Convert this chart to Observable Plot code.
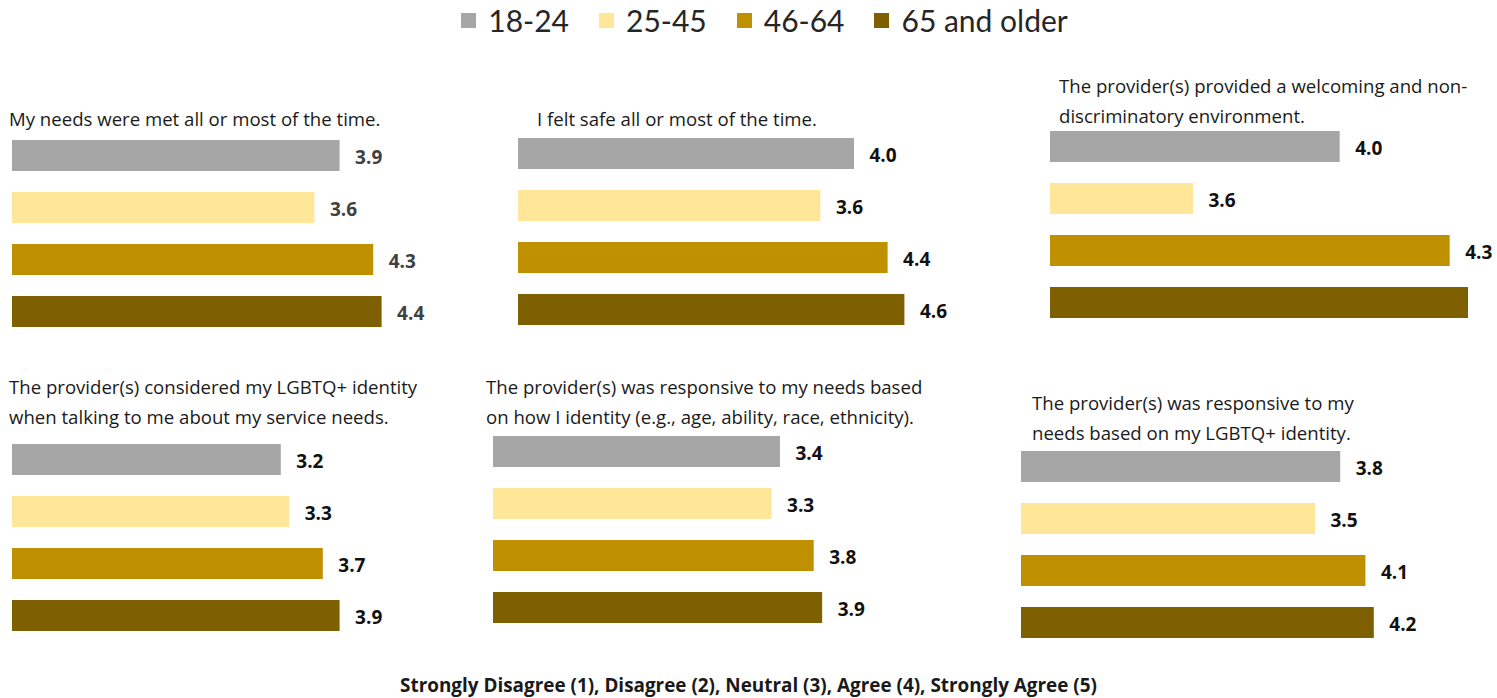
<!DOCTYPE html>
<html>
<head>
<meta charset="utf-8">
<script src="https://cdn.jsdelivr.net/npm/d3@7"></script>
<script src="https://cdn.jsdelivr.net/npm/@observablehq/plot@0.6"></script>
<style>
  html, body { margin: 0; padding: 0; background: #fff; }
  #root { position: relative; width: 1497px; height: 698px; overflow: hidden; font-family: "Open Sans", sans-serif; }
  .legend { position: absolute; top: 2px; left: 16px; width: 1497px; display: flex; justify-content: center; align-items: center; font-family: Lato, sans-serif; font-size: 30px; color: #262626; }
  .legend .item { display: flex; align-items: center; margin: 0 15px; }
  .legend .sw { width: 15px; height: 15px; margin-right: 12px; }
  .title { position: absolute; font-size: 18.6px; line-height: 30px; color: #1a1a1a; white-space: nowrap; }
  .panel { position: absolute; }
  .caption { position: absolute; top: 672px; left: 0; width: 1497px; text-align: center; font-weight: bold; font-size: 18.9px; color: #1a1a1a; }
</style>
</head>
<body>
<div id="root"></div>
<script>
// ---- data ----
const groups = ["18-24", "25-45", "46-64", "65 and older"];
const colors = ["#a6a6a6", "#ffe699", "#bf9000", "#7f6000"];
const questions = [
  "My needs were met all or most of the time.",
  "I felt safe all or most of the time.",
  "The provider(s) provided a welcoming and non-\ndiscriminatory environment.",
  "The provider(s) considered my LGBTQ+ identity\nwhen talking to me about my service needs.",
  "The provider(s) was responsive to my needs based\non how I identity (e.g., age, ability, race, ethnicity).",
  "The provider(s) was responsive to my\nneeds based on my LGBTQ+ identity."
];
const q1Values = [3.9, 3.6, 4.3, 4.4];
const q2Values = [4.0, 3.6, 4.4, 4.6];
const q3Values = [4.0, 3.6, 4.3, 4.35];
const q4Values = [3.2, 3.3, 3.7, 3.9];
const q5Values = [3.4, 3.3, 3.8, 3.9];
const q6Values = [3.8, 3.5, 4.1, 4.2];
const q3Labelled = [true, true, true, false];
const caption = "Strongly Disagree (1), Disagree (2), Neutral (3), Agree (4), Strongly Agree (5)";

// ---- layout (not data) ----
const panels = [
  {values: q1Values, left: 12, top: 139, xDomain: [0, 5], xRange: [0, 420], labelColor: "#404040", tLeft: 9, tTop: 104},
  {values: q2Values, left: 518, top: 137, xDomain: [0, 5], xRange: [0, 420], labelColor: "#111", tLeft: 537, tTop: 104},
  {values: q3Values, left: 1050, top: 130, xDomain: [3.21, 4.5], xRange: [0, 473], labelColor: "#111", tLeft: 1059, tTop: 71, labelled: q3Labelled},
  {values: q4Values, left: 12, top: 443, xDomain: [0, 5], xRange: [0, 420], labelColor: "#111", tLeft: 9, tTop: 372},
  {values: q5Values, left: 493, top: 435, xDomain: [0, 5], xRange: [0, 422], labelColor: "#111", tLeft: 486, tTop: 372},
  {values: q6Values, left: 1021, top: 450, xDomain: [0, 5], xRange: [0, 420], labelColor: "#111", tLeft: 1032, tTop: 388}
];

const root = document.getElementById("root");

// legend
const leg = document.createElement("div");
leg.className = "legend";
groups.forEach((g, i) => {
  const it = document.createElement("div");
  it.className = "item";
  const sw = document.createElement("div");
  sw.className = "sw";
  sw.style.background = colors[i];
  const tx = document.createElement("span");
  tx.textContent = g;
  it.appendChild(sw); it.appendChild(tx);
  leg.appendChild(it);
});
root.appendChild(leg);

const pitch = 52.5, barH = 31;
const innerPad = (pitch - barH) / pitch;
const yRangeEnd = 3 * pitch + barH;

panels.forEach((p, k) => {
  const t = document.createElement("div");
  t.className = "title";
  t.style.left = p.tLeft + "px";
  t.style.top = p.tTop + "px";
  t.innerHTML = questions[k].split("\n").map(s => s.replace(/&/g, "&amp;").replace(/</g, "&lt;")).join("<br>");
  root.appendChild(t);

  const data = groups.map((g, i) => ({group: g, value: p.values[i], show: p.labelled ? p.labelled[i] : true}));
  const chart = Plot.plot({
    width: 480,
    height: Math.ceil(yRangeEnd) + 2,
    marginLeft: 0, marginRight: 0, marginTop: 0, marginBottom: 0,
    x: {domain: p.xDomain, range: p.xRange, axis: null},
    y: {domain: groups, range: [0, yRangeEnd], paddingInner: innerPad, paddingOuter: 0, axis: null},
    color: {domain: groups, range: colors},
    style: {fontFamily: "'Open Sans', sans-serif", background: "transparent"},
    marks: [
      Plot.barX(data, {x1: p.xDomain[0], x2: "value", y: "group", fill: "group"}),
      Plot.text(data.filter(d => d.show), {
        x: "value", y: "group", text: d => d.value.toFixed(1),
        dx: 15, dy: 2, textAnchor: "start", fontWeight: "bold", fontSize: 19, fill: p.labelColor
      })
    ]
  });
  chart.classList.add("panel");
  chart.style.left = p.left + "px";
  chart.style.top = p.top + "px";
  chart.style.overflow = "visible";
  root.appendChild(chart);
});

const cap = document.createElement("div");
cap.className = "caption";
cap.textContent = caption;
root.appendChild(cap);
</script>
</body>
</html>
